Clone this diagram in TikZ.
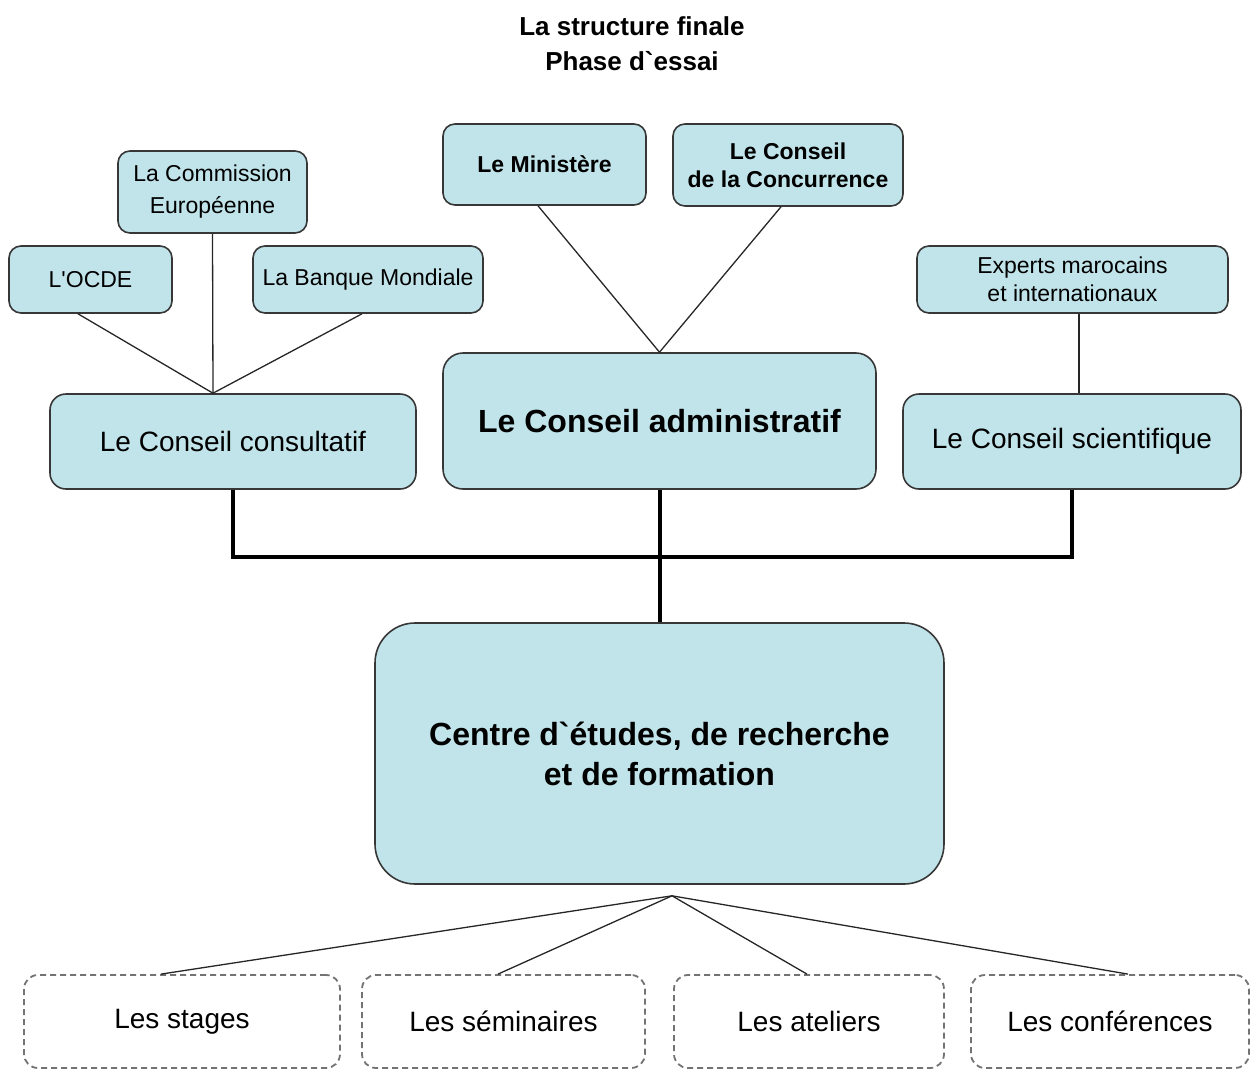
\documentclass[tikz,border=0pt]{standalone}
\usepackage{fontspec}
\setmainfont{Liberation Sans}[Ligatures=TeXOff]
\usetikzlibrary{calc}
\definecolor{boxfill}{RGB}{192,228,234}
\definecolor{boxline}{RGB}{55,55,55}
\definecolor{dashline}{RGB}{115,115,115}
\newcommand{\gravetick}{\symbol{96}}
\begin{document}
\begin{tikzpicture}[x=1pt,y=-1pt,
 box/.style={draw=boxline, line width=1.6pt, fill=boxfill, rounded corners=12pt, inner sep=0pt, align=center},
 bigbox/.style={box, rounded corners=20pt},
 dbox/.style={draw=dashline, line width=1.8pt, dash pattern=on 6pt off 4pt, rounded corners=14pt, inner sep=0pt, align=center},
 thinline/.style={draw=black!85, line width=1.3pt},
 thickline/.style={draw=black, line width=4pt},
 smallfont/.style={font=\fontsize{23}{28}\selectfont},
 midfont/.style={font=\fontsize{28}{34}\selectfont},
 bigfont/.style={font=\fontsize{32}{40}\selectfont\bfseries},
]
\useasboundingbox (0,0) rectangle (1253,1071);

% title
\node[font=\fontsize{26}{35}\selectfont\bfseries, align=center] (title) at (632,44) {La structure finale\\Phase d\gravetick essai};

% left group
\node[box, font=\fontsize{23}{32}\selectfont, minimum width=189pt, minimum height=82pt] (commission) at (212.5,192) {La Commission\\Européenne};
\node[box, smallfont, minimum width=163pt, minimum height=67pt] (ocde) at (90.5,279.5) {L\textquotesingle OCDE};
\node[box, smallfont, minimum width=230pt, minimum height=67pt] (banque) at (368,279.5) {La Banque Mondiale};
\node[box, midfont, rounded corners=16pt, minimum width=366pt, minimum height=95pt] (consultatif) at (233,441.5) {Le Conseil consultatif};

% middle group
\node[box, font=\fontsize{23}{28}\selectfont\bfseries, minimum width=203pt, minimum height=81pt] (ministere) at (544.5,164.5) {Le Ministère};
\node[box, font=\fontsize{23}{28}\selectfont\bfseries, minimum width=230pt, minimum height=82pt] (concurrence) at (788,165) {Le Conseil\\de la Concurrence};
\node[bigbox, bigfont, minimum width=433pt, minimum height=136pt] (administratif) at (659.5,421) {Le Conseil administratif};

% right group
\node[box, smallfont, minimum width=311pt, minimum height=67pt] (experts) at (1072.5,279.5) {Experts marocains\\et internationaux};
\node[box, midfont, rounded corners=16pt, minimum width=338pt, minimum height=95pt] (scientifique) at (1072,441.5) {Le Conseil scientifique};

% centre
\node[box, bigfont, rounded corners=40pt, minimum width=569pt, minimum height=261pt] (centre) at (659.5,753.5) {Centre d\gravetick études, de recherche\\et de formation};

% bottom dashed boxes
\node[dbox, midfont, minimum width=316pt, minimum height=93pt] (stages) at (182,1021.5) {\raisebox{-2pt}{Les stages}};
\node[dbox, midfont, minimum width=283pt, minimum height=93pt] (seminaires) at (503.5,1021.5) {\raisebox{-8pt}{Les séminaires}};
\node[dbox, midfont, minimum width=270pt, minimum height=93pt] (ateliers) at (809,1021.5) {\raisebox{-8pt}{Les ateliers}};
\node[dbox, midfont, minimum width=278pt, minimum height=93pt] (conferences) at (1110,1021.5) {\raisebox{-8pt}{Les conférences}};

% thin connectors, top
\coordinate (jleft) at ([xshift=-20pt]consultatif.north);
\draw[thinline] ([xshift=-12.5pt]ocde.south) -- (jleft);
\draw[thinline] (commission.south) -- (jleft);
\draw[thinline] ([xshift=-6pt]banque.south) -- (jleft);
\draw[thinline] ([xshift=-6.5pt]ministere.south) -- (administratif.north);
\draw[thinline] ([xshift=-7pt]concurrence.south) -- (administratif.north);
\draw[thinline] ([xshift=6.5pt]experts.south) -- ([xshift=7pt]scientifique.north);

% thick connectors
\coordinate (bus) at ($(consultatif.south)+(0,67)$);
\draw[thickline] (consultatif.south) -- (bus) -| (scientifique.south);
\draw[thickline] (administratif.south) -- (centre.north);

% bottom fan
\coordinate (apex) at ($(centre.south)+(12.5,11)$);
\draw[thinline] (apex) -- ([xshift=-21pt]stages.north);
\draw[thinline] (apex) -- ([xshift=-5.5pt]seminaires.north);
\draw[thinline] (apex) -- ([xshift=-2pt]ateliers.north);
\draw[thinline] (apex) -- ([xshift=18pt]conferences.north);
\end{tikzpicture}
\end{document}
